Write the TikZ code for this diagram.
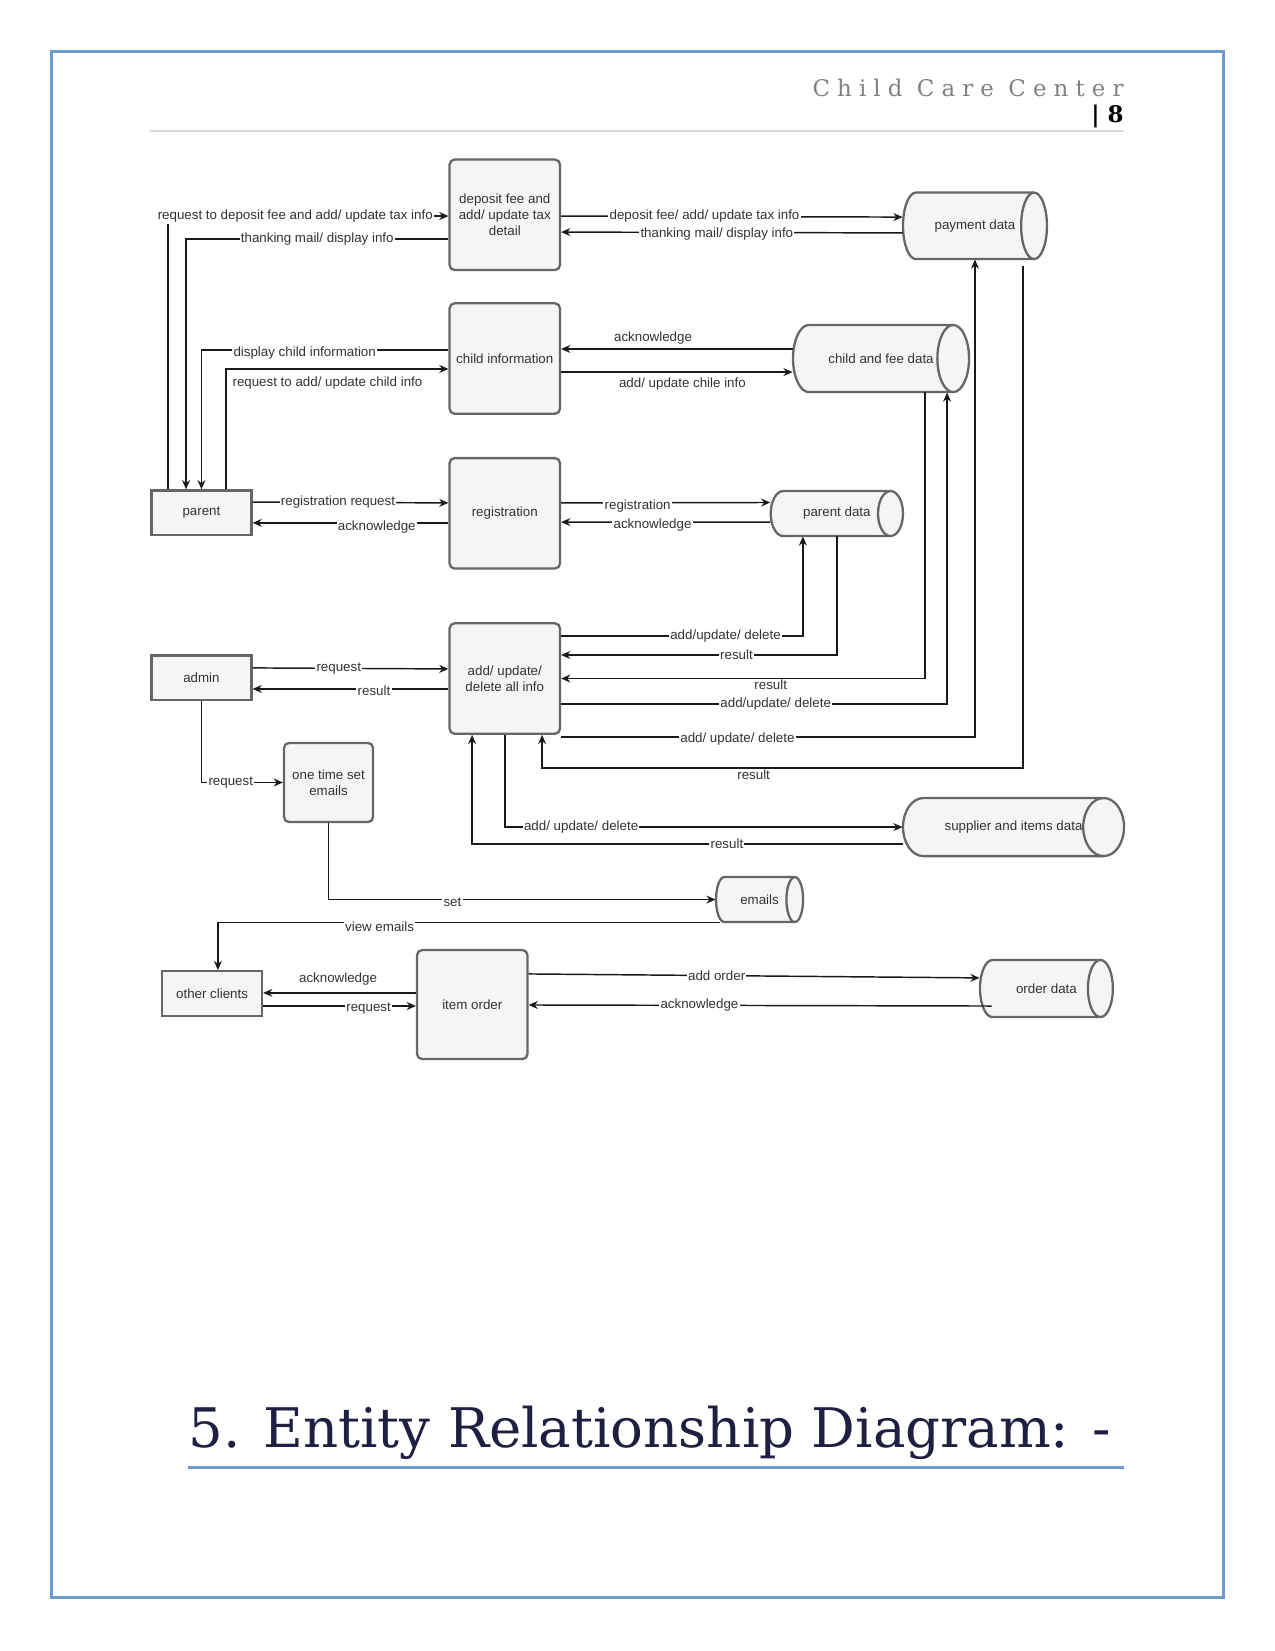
\documentclass[tikz,border=0pt]{standalone}
\usepackage{fontspec}
\usepackage{xcolor}
\usetikzlibrary{calc,positioning,arrows.meta}
\setmainfont{Liberation Sans}
\newfontfamily\serifhead{DejaVu Serif}
\newfontfamily\serifspaced[LetterSpace=31]{DejaVu Serif}
\definecolor{color_fill_default}{HTML}{F5F5F5}
\definecolor{color_stroke_default}{HTML}{666666}
\definecolor{color_text_default}{HTML}{333333}
\definecolor{color_line_default}{HTML}{1A1A1A}
\definecolor{color_page_border}{HTML}{6B9BCF}
\definecolor{color_rule_light}{HTML}{D9D9D9}
\definecolor{color_header_grey}{HTML}{808080}
\definecolor{color_title}{HTML}{1F2041}

\begin{document}
\begin{tikzpicture}[x=1pt,y=-1pt,
		every node/.style={font=\fontsize{6.4}{7.6}\selectfont, text=color_text_default},
		process/.style={draw=color_stroke_default, fill=color_fill_default, line width=1.1pt,
			rounded corners=2.4pt, minimum width=53pt, minimum height=53pt, align=center, inner sep=1pt},
		entity/.style={draw=color_stroke_default, fill=color_fill_default, line width=1.1pt,
			minimum width=48pt, minimum height=21.4pt, align=center, inner sep=1pt},
		store/.style={rectangle, inner sep=0pt},
		storeline/.style={draw=color_stroke_default, line width=1.1pt},
		flow/.style={draw=color_line_default, line width=0.7pt, -{Stealth[length=4.4pt,width=3.8pt]}},
		lbl/.style={fill=white, inner sep=0.6pt}]
	\useasboundingbox (0,0) rectangle (612,792.5);

	% Page frame and header
	\draw[line width=1.5pt, color_page_border] (24.8,24.8) rectangle (587.3,767);
	\node[anchor=base east, inner sep=0pt, text=color_header_grey,
		font=\serifspaced\fontsize{11}{13}\selectfont] (header) at (539.5,46.1) {Child Care Center};
	\node[anchor=base east, inner sep=0pt, text=black,
		font=\serifhead\bfseries\fontsize{11}{13}\selectfont] (pagenum) at (539.5,58.9) {| 8};
	\draw[color_rule_light, line width=0.6pt] (72.2,62.9) -- (539.5,62.9);

	% Processes
	\node[process] (deposit) at (242.3,103.1) {deposit fee and\\add/ update tax\\detail};
	\node[process] (childinfo) at (242.3,172.1) {child information};
	\node[process] (registration) at (242.3,246.4) {registration};
	\node[process] (alldata) at (242.3,325.7) {add/ update/\\delete all info};
	\node[process, minimum width=42.7pt, minimum height=38pt] (onetime) at (157.7,375.6) {one time set\\emails};
	\node[process, minimum height=52.3pt] (itemorder) at (226.7,482.2) {item order};

	% Entities
	\node[entity] (parent) at (96.7,246.1) {parent};
	\node[entity] (admin) at (96.7,325.4) {admin};
	\node[entity] (others) at (101.8,476.9) {other clients};

	% Data stores: centre x/centre y/width/height/end radius
	\foreach \name/\cx/\cy/\w/\h/\rx/\txt in {
		payment/468/108.4/69.1/31.9/6.2/payment data,
		childfee/422.9/172.1/84.5/32.2/7.6/child and fee data,
		parentdata/401.7/246.5/63.5/21.6/6/parent data,
		supplier/486.5/397/106.1/27.9/9.8/supplier and items data,
		emails/364.6/431.8/41.8/21.6/4/emails,
		orderdata/502.3/474.5/63.8/27.4/6/order data}{
		\draw[storeline, fill=color_fill_default]
			($(\cx,\cy)+(\w/2-\rx,-\h/2)$) -- ($(\cx,\cy)+(-\w/2+\rx,-\h/2)$)
			arc[start angle=90, end angle=270, x radius=\rx*1pt, y radius=\h*0.5pt]
			-- ($(\cx,\cy)+(\w/2-\rx,\h/2)$)
			arc[start angle=-90, end angle=90, x radius=\rx*1pt, y radius=\h*0.5pt]
			-- cycle;
		\draw[storeline] ($(\cx,\cy)+(\w/2-\rx,-\h/2)$)
			arc[start angle=90, end angle=270, x radius=\rx*1pt, y radius=\h*0.5pt];
		\node[store, minimum width=\w*1pt, minimum height=\h*1pt] (\name) at (\cx,\cy) {\txt};
	}

	% Parent flows
	\draw[flow] ($(parent.north)+(-16.1,0)$) |- node[lbl,pos=0.727] {request to deposit fee and add/ update tax info} ($(deposit.west)+(0,0.6)$);
	\draw[flow] ($(deposit.west)+(0,11.6)$) -| node[lbl,pos=0.25] {thanking mail/ display info} ($(parent.north)+(-7.4,0)$);
	\draw[flow] ($(childinfo.west)+(0,-4.1)$) -| node[lbl,pos=0.291,yshift=-1.5pt] {display child information} (parent.north);
	\draw[flow] ($(parent.north)+(11.8,0)$) |- node[below,pos=0.728] {request to add/ update child info} ($(childinfo.west)+(0,5)$);
	\draw[flow] ($(parent.east)+(0,-5.1)$) -- node[lbl,pos=0.436] {registration request} ($(registration.west)+(0,-5)$);
	\draw[flow] ($(registration.west)+(0,4.6)$) -- node[lbl,pos=0.366,yshift=-2pt] {acknowledge} ($(parent.east)+(0,4.9)$);

	% Store flows
	\draw[flow] ($(deposit.east)+(0,0.6)$) -- node[lbl,pos=0.42] {deposit fee/ add/ update tax info} ($(payment.west)+(0,-4.2)$);
	\draw[flow] ($(payment.west)+(0,3.4)$) -- node[lbl,pos=0.544,yshift=-1pt] {thanking mail/ display info} ($(deposit.east)+(0,8.3)$);
	\draw[flow] ($(childfee.west)+(0,-4.6)$) -- node[above,pos=0.603,yshift=-1.5pt] {acknowledge} ($(childinfo.east)+(0,-4.6)$);
	\draw[flow] ($(childinfo.east)+(0,6.5)$) -- node[below,pos=0.524,yshift=0.8pt] {add/ update chile info} ($(childfee.west)+(0,6.5)$);
	\draw[flow] ($(registration.east)+(0,-5)$) -- node[lbl,pos=0.366,yshift=-1.5pt] {registration} ($(parentdata.west)+(0,-5.3)$);
	\draw[flow] ($(parentdata.west)+(0,4.1)$) -- node[lbl,pos=0.563,yshift=-1.5pt] {acknowledge} ($(registration.east)+(0,4.2)$);

	% Maintenance flows
	\draw[flow] ($(alldata.east)+(0,-20.4)$) -| node[lbl,pos=0.34] {add/update/ delete} ($(parentdata.south)+(-16.3,0)$);
	\draw[flow] (parentdata.south) |- node[lbl,pos=0.682] {result} ($(alldata.east)+(0,-11.3)$);
	\draw[flow] ($(childfee.south)+(21.1,0)$) |- node[anchor=north,inner sep=0.5pt,pos=0.712] {result} (alldata.east);
	\draw[flow] ($(alldata.east)+(0,12.2)$) -| node[lbl,pos=0.278] {add/update/ delete} ($(childfee.south)+(31.7,0)$);
	\draw[flow] ($(alldata.south east)+(0,1)$) -| node[lbl,pos=0.213,yshift=-1pt] {add/ update/ delete} (payment.south);
	\draw[flow] ($(payment.south)+(23,3)$) |- node[anchor=north,inner sep=0.5pt,pos=0.78] {result} ($(alldata.south)+(17.9,16)$) -- ($(alldata.south)+(17.9,0)$);
	\draw[flow] (alldata.south) |- node[lbl,pos=0.596] {add/ update/ delete} (supplier.west);
	\draw[flow] ($(supplier.west)+(0,8.1)$) -| node[lbl,pos=0.204] {result} ($(alldata.south)+(-15.7,0)$);

	% Admin flows
	\draw[flow] ($(admin.east)+(0,-4.8)$) -- node[lbl,pos=0.44] {request} ($(alldata.west)+(0,-4.6)$);
	\draw[flow] ($(alldata.west)+(0,5)$) -- node[lbl,pos=0.38,yshift=-1pt] {result} ($(admin.east)+(0,5.3)$);
	\draw[flow] (admin.south) |- node[lbl,pos=0.68] {request} (onetime.west);
	\draw[flow] (onetime.south) |- node[lbl,pos=0.66,yshift=-1.5pt] {set} (emails.west);
	\draw[flow] ($(emails.south)+(-19,0)$) -| node[lbl,pos=0.339,yshift=-2pt] {view emails} ($(others.north)+(2.8,0)$);

	% Order flows
	\draw[flow] ($(itemorder.west)+(0,-5.6)$) -- node[above,pos=0.51] {acknowledge} ($(others.east)+(0,-0.3)$);
	\draw[flow] ($(others.east)+(0,6)$) -- node[lbl,pos=0.69,yshift=-1pt] {request} ($(itemorder.west)+(0,0.7)$);
	\draw[flow] ($(itemorder.east)+(0,-14.7)$) -- node[lbl,pos=0.417] {add order} ($(orderdata.west)+(0,-5.1)$);
	\draw[flow] ($(orderdata.west)+(5.8,8.4)$) -- node[lbl,pos=0.631] {acknowledge} ($(itemorder.east)+(0,0.2)$);

	% Heading
	\node[anchor=base west, inner sep=0pt, text=color_title,
		font=\serifhead\fontsize{26.2}{30}\selectfont] (title) at (90.2,694.9) {5. Entity Relationship Diagram: -};
	\draw[color_page_border, line width=1pt] (90.2,704.4) -- (539.5,704.4);
\end{tikzpicture}
\end{document}
